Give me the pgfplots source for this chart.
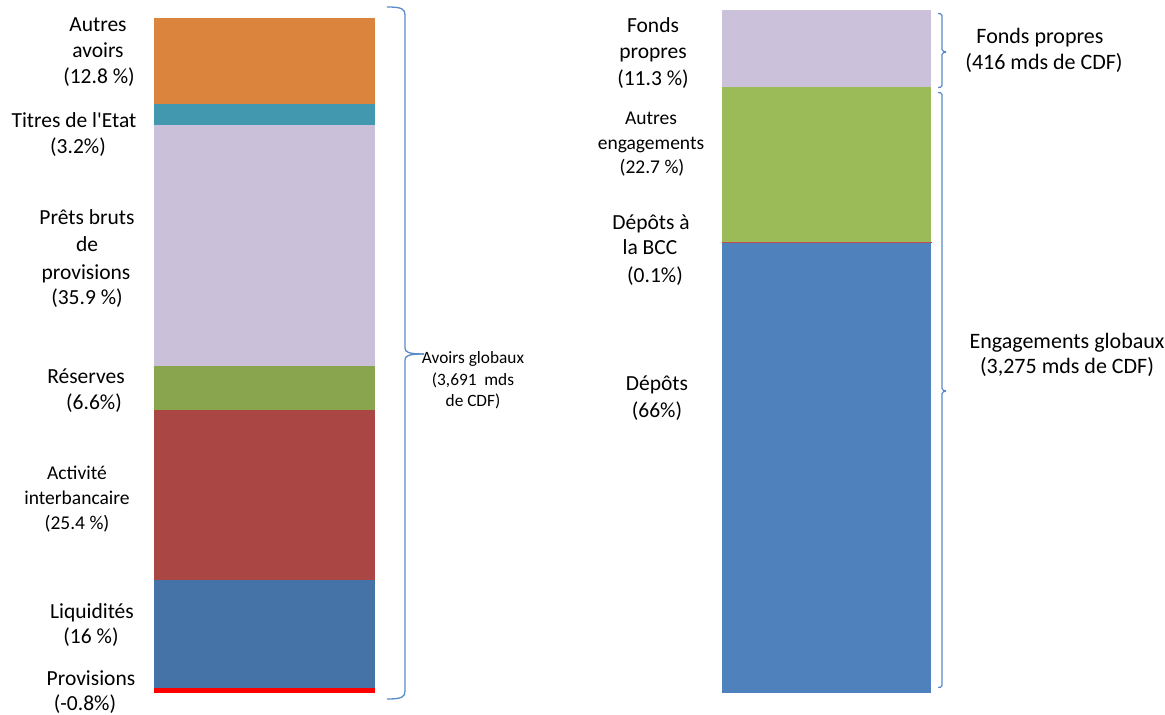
\documentclass[border=0pt]{standalone}
\usepackage{fontspec}
\setmainfont{Carlito}
\usepackage{pgfplots}
\pgfplotsset{compat=1.18}
\definecolor{cAutres}{HTML}{DB843D}
\definecolor{cTitres}{HTML}{4198AF}
\definecolor{cPrets}{HTML}{CBC0DA}
\definecolor{cReserves}{HTML}{89A54E}
\definecolor{cInter}{HTML}{AA4643}
\definecolor{cLiq}{HTML}{4572A7}
\definecolor{cProv}{HTML}{FF0000}
\definecolor{cFonds}{HTML}{CCC1DA}
\definecolor{cAutEng}{HTML}{9BBB59}
\definecolor{cBCC}{HTML}{C0504D}
\definecolor{cDep}{HTML}{4F81BD}
\definecolor{cBrace}{HTML}{5B8BC6}
\newcommand\fm{\fontsize{21.5}{26}\selectfont}
\newcommand\fr{\fontsize{22}{26}\selectfont}
\newcommand\fsm{\fontsize{19.5}{24}\selectfont}
\newcommand\fa{\fontsize{17.3}{21}\selectfont}
\newcommand\lab[3]{\node[anchor=base,inner sep=0pt,font=\fm] at (#1pt,{(708-#2)*1pt}) {#3};}
\newcommand\labr[3]{\node[anchor=base,inner sep=0pt,font=\fr] at (#1pt,{(708-#2)*1pt}) {#3};}
\newcommand\labs[3]{\node[anchor=base,inner sep=0pt,font=\fsm] at (#1pt,{(709-#2)*1pt}) {#3};}
\newcommand\laba[3]{\node[anchor=base,inner sep=0pt,font=\fa] at (#1pt,{(709.5-#2)*1pt}) {#3};}
\begin{document}
\begin{tikzpicture}[x=1pt,y=1pt]
\path[use as bounding box] (0pt,0pt) rectangle (1165pt,715pt);
% Left bar: assets
\begin{axis}[at={(154pt,22pt)}, anchor=south west, scale only axis,
  width=221pt, height=675pt, xmin=-0.5, xmax=0.5, ymin=0, ymax=100.7,
  hide axis, ybar stacked, bar width=221pt, clip=false]
\addplot[fill=cProv, draw=none] coordinates {(0,0.8)};
\addplot[fill=cLiq, draw=none] coordinates {(0,16)};
\addplot[fill=cInter, draw=none] coordinates {(0,25.4)};
\addplot[fill=cReserves, draw=none] coordinates {(0,6.6)};
\addplot[fill=cPrets, draw=none] coordinates {(0,35.9)};
\addplot[fill=cTitres, draw=none] coordinates {(0,3.2)};
\addplot[fill=cAutres, draw=none] coordinates {(0,12.8)};
\end{axis}
% Right bar: liabilities
\begin{axis}[at={(722pt,22pt)}, anchor=south west, scale only axis,
  width=209pt, height=683pt, xmin=-0.5, xmax=0.5, ymin=0, ymax=100.1,
  hide axis, ybar stacked, bar width=209pt, clip=false]
\addplot[fill=cDep, draw=none] coordinates {(0,66)};
\addplot[fill=cBCC, draw=cBCC, line width=0.8pt] coordinates {(0,0.1)};
\addplot[fill=cAutEng, draw=none] coordinates {(0,22.7)};
\addplot[fill=cFonds, draw=none] coordinates {(0,11.3)};
\end{axis}
% Braces
\draw[cBrace, line width=1.3pt] (387,708) .. controls (402,708) and (405,706) .. (405,700) -- (405,367) .. controls (405,363) and (408,361) .. (424,361);
\draw[cBrace, line width=1.3pt] (424,361) .. controls (408,361) and (405,359) .. (405,355) -- (405,24) .. controls (405,18) and (402,16) .. (387,16);
\draw[cBrace, line width=1.2pt, rounded corners=1.5pt] (938,701.5) -- (942,701) -- (942,664) -- (947,663) -- (942,662) -- (942,628) -- (938,627.5);
\draw[cBrace, line width=1.2pt, rounded corners=1.5pt] (938,622.5) -- (942,622) -- (942,325) -- (947,324) -- (942,323) -- (942,28) -- (938,27.5);
% Left labels
\lab{98}{25}{Autres}
\lab{98}{51}{avoirs}
\lab{99}{77}{(12.8 \%)}
\lab{74}{121}{Titres de l\textquotesingle Etat}
\lab{78}{147}{(3.2\%)}
\lab{87}{218}{Prêts bruts}
\lab{87}{245}{de}
\lab{86}{273}{provisions}
\lab{87}{298}{(35.9 \%)}
\lab{86}{377}{Réserves}
\lab{94}{403}{(6.6\%)}
\labs{77}{474}{Activité}
\labs{77}{499}{interbancaire}
\labs{77}{524}{(25.4 \%)}
\lab{92}{612}{Liquidités}
\lab{91}{637}{(16 \%)}
\lab{91}{679}{Provisions}
\lab{85}{703.5}{(-0.8\%)}
% Avoirs globaux
\laba{473}{358}{Avoirs globaux}
\laba{473}{380}{(3,691~ mds}
\laba{473}{401}{de CDF)}
% Right labels
\lab{653}{26}{Fonds}
\lab{653}{52}{propres}
\lab{653}{79}{(11.3 \%)}
\labs{651}{119}{Autres}
\labs{651}{144}{engagements}
\labs{652}{168}{(22.7 \%)}
\lab{651}{223}{Dépôts à}
\lab{650}{248}{la BCC}
\lab{655}{276}{(0.1\%)}
\lab{657}{384}{Dépôts}
\lab{657}{411}{(66\%)}
\labr{1040}{37}{Fonds propres}
\labr{1044}{63}{(416 mds de CDF)}
\labr{1067}{342}{Engagements globaux}
\labr{1067}{367}{(3,275 mds de CDF)}
\end{tikzpicture}
\end{document}
